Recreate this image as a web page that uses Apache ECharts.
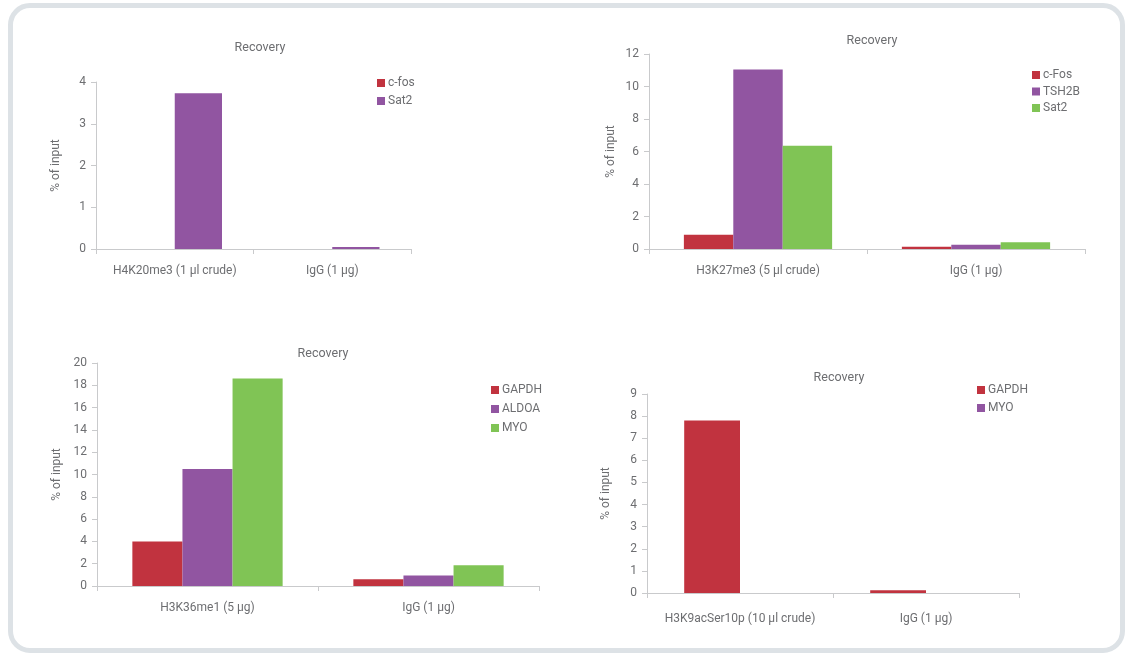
<!DOCTYPE html>
<html>
<head>
<meta charset="utf-8">
<script src="https://cdn.jsdelivr.net/npm/echarts@6/dist/echarts.min.js"></script>
<style>
  html, body { margin: 0; padding: 0; background: #ffffff; width: 1128px; height: 656px; overflow: hidden; }
  .frame { position: absolute; left: 8px; top: 3px; width: 1117px; height: 650px; box-sizing: border-box;
           border: 5px solid #dde2e6; border-radius: 22px; }
  .chart { position: absolute; left: 0; top: 0; width: 1128px; height: 656px; }
</style>
</head>
<body>
<div class="frame"></div>
<div id="c1" class="chart"></div>
<div id="c2" class="chart"></div>
<div id="c3" class="chart"></div>
<div id="c4" class="chart"></div>
<script>
// ---- data ----
const titleText = "Recovery";
const yAxisName = "% of input";

const cat1 = ["H4K20me3 (1 µl crude)", "IgG (1 µg)"];
const names1 = ["c-fos", "Sat2"];
const c1_cfos = [0, 0];
const c1_sat2 = [3.73, 0.05];

const cat2 = ["H3K27me3 (5 µl crude)", "IgG (1 µg)"];
const names2 = ["c-Fos", "TSH2B", "Sat2"];
const c2_cfos = [0.88, 0.14];
const c2_tsh2b = [11.05, 0.26];
const c2_sat2 = [6.35, 0.41];

const cat3 = ["H3K36me1 (5 µg)", "IgG (1 µg)"];
const names3 = ["GAPDH", "ALDOA", "MYO"];
const c3_gapdh = [4.0, 0.6];
const c3_aldoa = [10.5, 0.95];
const c3_myo = [18.6, 1.85];

const cat4 = ["H3K9acSer10p (10 µl crude)", "IgG (1 µg)"];
const names4 = ["GAPDH", "MYO"];
const c4_gapdh = [7.8, 0.12];
const c4_myo = [0, 0];

const RED = "#c1333f", PURPLE = "#9155a1", GREEN = "#80c455";
const TXT = "#6d6e71", AX = "#c9cacc";
const FONT = "Roboto, 'Liberation Sans', sans-serif";

function makeOption(cfg) {
  return {
    animation: false,
    textStyle: { fontFamily: FONT },
    title: {
      text: titleText, left: cfg.titleX, top: cfg.titleY, textAlign: "center",
      textStyle: { fontFamily: FONT, fontSize: 12.5, fontWeight: "normal", color: TXT }
    },
    legend: {
      orient: "vertical", left: cfg.legX, top: cfg.legY,
      itemWidth: 8, itemHeight: 8, itemGap: cfg.legGap, icon: "rect",
      textStyle: { fontFamily: FONT, fontSize: 12, color: TXT, lineHeight: 12, padding: [0, 0, 0, -2] },
      data: cfg.names
    },
    grid: { left: cfg.gl, top: cfg.gt, width: cfg.gw, height: cfg.gh, containLabel: false },
    xAxis: {
      type: "category", data: cfg.cats,
      axisLine: { lineStyle: { color: AX, width: 1 } },
      axisTick: { show: true, length: 5, interval: 0, lineStyle: { color: AX } },
      axisLabel: { color: TXT, fontSize: 12, fontFamily: FONT, margin: cfg.xMargin, interval: 0 }
    },
    yAxis: {
      type: "value", min: 0, max: cfg.ymax, interval: cfg.yint,
      name: yAxisName, nameLocation: "middle", nameRotate: 90, nameGap: cfg.nameGap,
      nameTextStyle: { color: TXT, fontSize: 12, fontFamily: FONT },
      axisLine: { show: true, lineStyle: { color: AX, width: 1 } },
      axisTick: { show: true, length: 5, lineStyle: { color: AX } },
      axisLabel: { color: TXT, fontSize: 12, fontFamily: FONT, margin: 10 },
      splitLine: { show: false }
    },
    series: cfg.series.map((s) => ({
      type: "bar", name: s.name, data: s.data, barGap: "0%", barCategoryGap: cfg.catGap,
      itemStyle: { color: s.color }
    }))
  };
}

const charts = [
  { id: "c1", cats: cat1, names: names1, ymax: 4, yint: 1,
    gl: 96, gt: 82, gw: 315, gh: 167, titleX: 255, titleY: 36, legX: 372, legY: 72, legGap: 6,
    nameGap: 34, xMargin: 16, catGap: "40%",
    series: [ { name: names1[0], data: c1_cfos, color: RED }, { name: names1[1], data: c1_sat2, color: PURPLE } ] },
  { id: "c2", cats: cat2, names: names2, ymax: 12, yint: 2,
    gl: 649, gt: 54, gw: 436, gh: 195, titleX: 867, titleY: 29, legX: 1027, legY: 64, legGap: 4.5,
    nameGap: 32, xMargin: 16, catGap: "32%",
    series: [ { name: names2[0], data: c2_cfos, color: RED }, { name: names2[1], data: c2_tsh2b, color: PURPLE }, { name: names2[2], data: c2_sat2, color: GREEN } ] },
  { id: "c3", cats: cat3, names: names3, ymax: 20, yint: 2,
    gl: 97, gt: 363, gw: 442, gh: 223, titleX: 318, titleY: 342, legX: 486, legY: 379, legGap: 7,
    nameGap: 34, xMargin: 16, catGap: "32%",
    series: [ { name: names3[0], data: c3_gapdh, color: RED }, { name: names3[1], data: c3_aldoa, color: PURPLE }, { name: names3[2], data: c3_myo, color: GREEN } ] },
  { id: "c4", cats: cat4, names: names4, ymax: 9, yint: 1,
    gl: 647, gt: 394, gw: 372, gh: 199, titleX: 834, titleY: 366, legX: 972, legY: 379, legGap: 6,
    nameGap: 35, xMargin: 20, catGap: "40%",
    series: [ { name: names4[0], data: c4_gapdh, color: RED }, { name: names4[1], data: c4_myo, color: PURPLE } ] }
];

charts.forEach((cfg) => {
  const ch = echarts.init(document.getElementById(cfg.id), null, { renderer: "canvas" });
  ch.setOption(makeOption(cfg));
});
</script>
</body>
</html>
